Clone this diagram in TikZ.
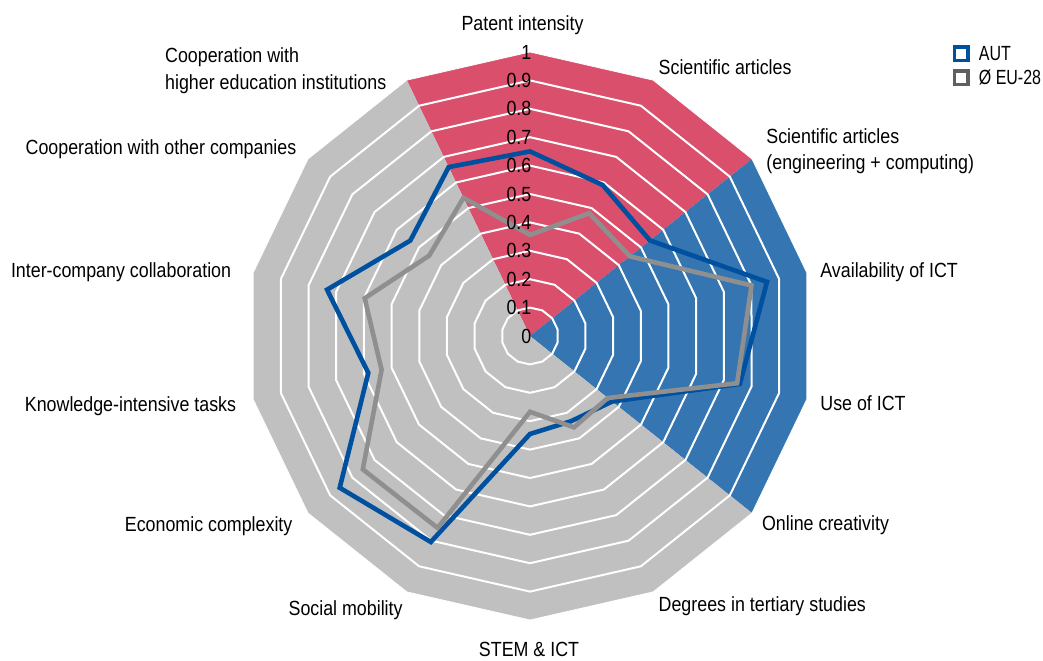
\documentclass[tikz,border=0pt]{standalone}
\usepackage{fontspec}
\setmainfont{Liberation Sans}[FakeStretch=0.87]
\newfontfamily\legendfont{Liberation Sans}[FakeStretch=0.78]
\usetikzlibrary{positioning}
\definecolor{innored}{HTML}{D94F6C}
\definecolor{ictblue}{HTML}{3475B2}
\definecolor{restgrey}{HTML}{C0C0C0}
\definecolor{autblue}{HTML}{0050A0}
\definecolor{eugrey}{HTML}{8F8F8F}
\definecolor{boxgrey}{HTML}{606060}
\newcommand{\rmax}{284}
\tikzset{
    gridline/.style={white, line width=1pt},
    autline/.style={autblue, line width=2.3pt},
    euline/.style={eugrey, line width=2.3pt},
    axislabel/.style={inner sep=0pt, align=left},
    ticklabel/.style={inner sep=0pt, anchor=east},
    legendbox/.style={draw, line width=1.75pt, minimum size=6.75pt, inner sep=0pt},
    legendtext/.style={inner sep=0pt, font=\fontsize{10.25pt}{13.25pt}\legendfont},
}
\begin{document}
\begin{tikzpicture}[x=0.5pt, y=0.5pt, font=\fontsize{10.25pt}{13.25pt}\selectfont]
            \useasboundingbox (-530,-324) rectangle (513,336);
            % sectors
            \fill[innored] (0,0) \foreach \idx in {13,...,16} {-- ({90-\idx*360/14}:\rmax)} -- cycle;
            \fill[ictblue] (0,0) \foreach \idx in {2,...,5} {-- ({90-\idx*360/14}:\rmax)} -- cycle;
            \fill[restgrey] (0,0) \foreach \idx in {5,...,13} {-- ({90-\idx*360/14}:\rmax)} -- cycle;
            % grid
            \foreach \k in {1,...,9}
                \draw[gridline] (90:\k*\rmax/10) \foreach \idx in {1,...,13} {-- ({90-\idx*360/14}:{\k*\rmax/10})} -- cycle;
            \draw[white, line width=0.4pt] (90:\rmax) \foreach \idx in {1,...,13} {-- ({90-\idx*360/14}:\rmax)} -- cycle;
            % data
            \draw[autline] (90:0.65*\rmax) \foreach \val [count=\idx] in {0.59,0.54,0.856,0.758,0.37,0.333,0.345,0.805,0.857,0.584,0.733,0.539,0.66} {-- ({90-\idx*360/14}:{\val*\rmax})} -- cycle;
            \draw[euline] (90:0.356*\rmax) \foreach \val [count=\idx] in {0.48,0.45,0.80,0.748,0.35,0.357,0.267,0.75,0.753,0.536,0.597,0.454,0.54} {-- ({90-\idx*360/14}:{\val*\rmax})} -- cycle;
            % scale
            \foreach \val [count=\n] in {0,0.1,0.2,0.3,0.4,0.5,0.6,0.7,0.8,0.9,1}
                \node[ticklabel] (tick\n) at (1.7,\val*\rmax) {\val};
            % axis labels
            \node[axislabel, anchor=base] (patent) at (-7.5,306) {Patent intensity};
            \node[axislabel, anchor=base west] (sciart) at (128.3,262) {Scientific articles};
            \node[axislabel, anchor=west] (scieng) at (236,184.8) {Scientific articles\\(engineering + computing)};
            \node[axislabel, anchor=base west] (ictavail) at (290,58.7) {Availability of ICT};
            \node[axislabel, anchor=base west] (ictuse) at (290,-74) {Use of ICT};
            \node[axislabel, anchor=base west] (online) at (231.7,-194) {Online creativity};
            \node[axislabel, anchor=base west] (degrees) at (128.3,-275.3) {Degrees in tertiary studies};
            \node[axislabel, anchor=base] (stem) at (-1,-320) {STEM \& ICT};
            \node[axislabel, anchor=base east] (mobility) at (-127,-279) {Social mobility};
            \node[axislabel, anchor=base east] (complexity) at (-237.2,-195.3) {Economic complexity};
            \node[axislabel, anchor=base east] (knowledge) at (-293.5,-75.3) {Knowledge-intensive tasks};
            \node[axislabel, anchor=base east] (intercomp) at (-298.5,58.7) {Inter-company collaboration};
            \node[axislabel, anchor=base east] (coopcomp) at (-233.3,181.7) {Cooperation with other companies};
            \node[axislabel, anchor=east] (coophei) at (-143.3,265.5) {Cooperation with\\higher education institutions};
            % legend
            \node[legendbox, autblue] (autbox) at (431,282.5) {};
            \node[legendbox, boxgrey] (eubox) at (431,258.5) {};
            \node[legendtext, right=4.5pt of autbox] (auttext) {AUT};
            \node[legendtext, right=4.5pt of eubox] (eutext) {Ø EU-28};
        \end{tikzpicture}
\end{document}
